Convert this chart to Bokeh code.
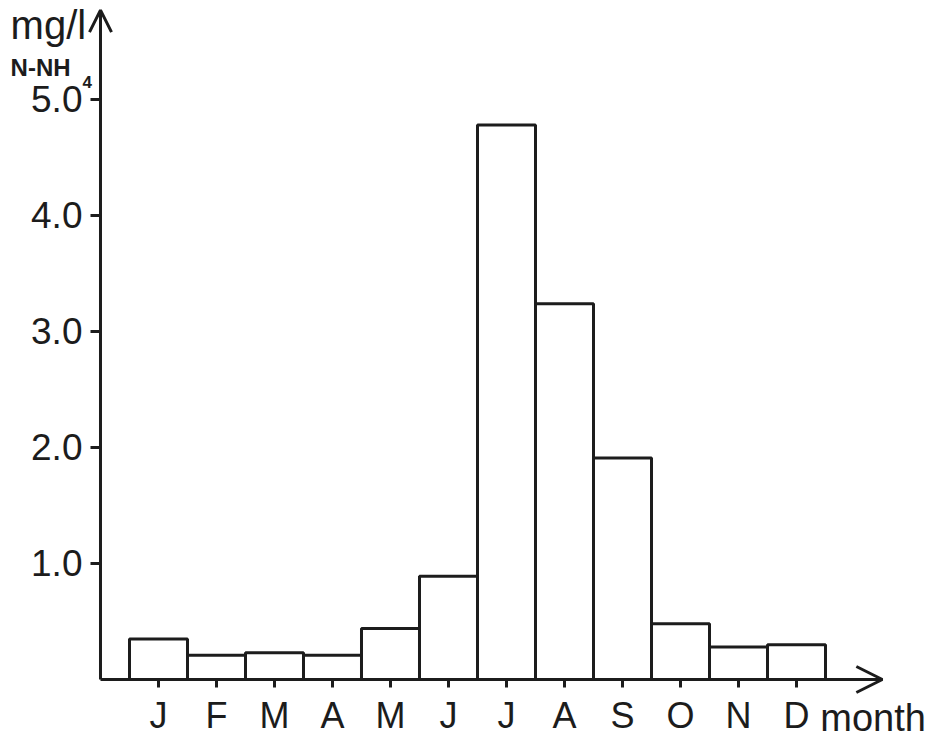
from bokeh.plotting import figure
from bokeh.models import FixedTicker, Arrow, OpenHead, Label, Range1d
from bokeh.embed import file_html
from bokeh.resources import INLINE

months = ["J", "F", "M", "A", "M", "J", "J", "A", "S", "O", "N", "D"]
values = [0.35, 0.21, 0.23, 0.21, 0.44, 0.89, 4.78, 3.24, 1.91, 0.48, 0.28, 0.30]
y_ticks = [1, 2, 3, 4, 5]
y_tick_labels = ["1.0", "2.0", "3.0", "4.0", "5.0"]

INK = "#1c1c1c"
FONT = "Liberation Sans"

p = figure(width=950, height=741, output_backend="svg", toolbar_location=None,
           x_range=Range1d(-1.724, 14.655), y_range=Range1d(-0.5345, 5.853),
           min_border=0)
p.outline_line_color = None
p.grid.visible = False
p.background_fill_color = "white"
p.border_fill_color = "white"

xs = list(range(1, len(months) + 1))
p.vbar(x=xs, top=values, width=1.0, bottom=0, fill_color="white",
       line_color=INK, line_width=3)

# x axis, drawn at y = 0
xa = p.xaxis[0]
xa.fixed_location = 0
xa.ticker = FixedTicker(ticks=xs)
xa.major_label_overrides = {x: m for x, m in zip(xs, months)}
xa.axis_line_color = None
xa.major_tick_line_color = INK
xa.major_tick_line_width = 3
xa.major_tick_out = 8
xa.major_tick_in = 0
xa.minor_tick_line_color = None
xa.major_label_standoff = 8
xa.major_label_text_font = FONT
xa.major_label_text_font_size = "36px"
xa.major_label_text_color = INK

# y axis, drawn at x = 0
ya = p.yaxis[0]
ya.fixed_location = 0
ya.ticker = FixedTicker(ticks=y_ticks)
ya.major_label_overrides = {t: l for t, l in zip(y_ticks, y_tick_labels)}
ya.axis_line_color = None
ya.major_tick_line_color = INK
ya.major_tick_line_width = 3
ya.major_tick_out = 10
ya.major_tick_in = 0
ya.minor_tick_line_color = None
ya.major_label_standoff = 8
ya.major_label_text_font = FONT
ya.major_label_text_font_size = "37px"
ya.major_label_text_color = INK

# axis lines with arrows
p.add_layout(Arrow(x_start=0, y_start=0, x_end=13.48, y_end=0,
                   line_color=INK, line_width=3,
                   end=OpenHead(size=26, line_color=INK, line_width=3)))
p.add_layout(Arrow(x_start=0, y_start=0, x_end=0, y_end=5.77,
                   line_color=INK, line_width=3,
                   end=OpenHead(size=22, line_color=INK, line_width=3)))

# texts
p.add_layout(Label(x=-1.55, y=5.64, text="mg/l", text_font=FONT,
                   text_font_size="40px", text_color=INK,
                   text_baseline="alphabetic"))
p.add_layout(Label(x=-1.55, y=5.276, text="N-NH", text_font=FONT,
                   text_font_size="24px", text_font_style="bold",
                   text_color=INK, text_baseline="alphabetic"))
p.add_layout(Label(x=-0.31, y=5.15, text="4", text_font=FONT,
                   text_font_size="17px", text_font_style="bold",
                   text_color=INK, text_baseline="alphabetic"))
p.add_layout(Label(x=12.41, y=-0.328, text="month", text_font=FONT,
                   text_font_size="38px", text_color=INK,
                   text_baseline="alphabetic"))

open("out.html", "w").write(file_html(p, INLINE))
